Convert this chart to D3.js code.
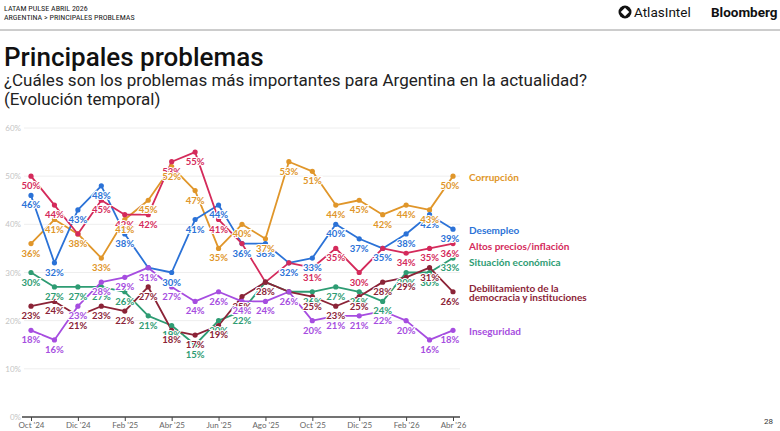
<!DOCTYPE html>
<html>
<head>
<meta charset="utf-8">
<script src="https://cdn.jsdelivr.net/npm/d3@7"></script>
<style>
  body { margin: 0; background: #fff; }
  svg { display: block; }
</style>
</head>
<body>
<svg id="chart" width="780" height="431"></svg>
<script>
// meses (Oct '24 - Abr '26)
var months = ["Oct '24", "Nov '24", "Dic '24", "Ene '25", "Feb '25", "Mar '25", "Abr '25", "May '25",
    "Jun '25", "Jul '25", "Ago '25", "Sep '25", "Oct '25", "Nov '25", "Dic '25", "Ene '26",
    "Feb '26", "Mar '26", "Abr '26"];
var yTicks = [0, 10, 20, 30, 40, 50, 60];

var corrupcion   = [36, 41, 38, 33, 41, 45, 52, 47, 35, 40, 37, 53, 51, 44, 45, 42, 44, 43, 50];
var desempleo    = [46, 32, 43, 48, 38, 31, 30, 41, 44, 36, 36, 32, 33, 40, 37, 35, 38, 42, 39];
var inflacion    = [50, 44, 38, 45, 42, 42, 53, 55, 41, 36, 28, 32, 31, 35, 30, 35, 34, 35, 36];
var situacion    = [30, 27, 27, 27, 26, 21, 19, 15, 20, 22, 28, 26, 26, 27, 26, 24, 30, 30, 33];
var democracia   = [23, 24, 21, 23, 22, 27, 18, 17, 19, 25, 28, 26, 25, 23, 25, 28, 29, 31, 26];
var inseguridad  = [18, 16, 23, 28, 29, 31, 27, 24, 26, 24, 24, 26, 20, 21, 21, 22, 20, 16, 18];

var series = [
    { name: ['Corrupción'], vals: corrupcion, color: '#E0962A' },
    { name: ['Desempleo'], vals: desempleo, color: '#2B72D7' },
    { name: ['Altos precios/inflación'], vals: inflacion, color: '#D42A5B' },
    { name: ['Situación económica'], vals: situacion, color: '#2E9C73' },
    { name: ['Debilitamiento de la', 'democracia y instituciones'], vals: democracia, color: '#8B2337' },
    { name: ['Inseguridad'], vals: inseguridad, color: '#A64DE0' }
];
// orden de dibujo de las etiquetas (la última queda encima)
var labelOrder = [2, 1, 3, 4, 5, 0];

var svg = d3.select('#chart');

// cabecera
var head = svg.append('g').attr('font-family', 'Roboto Condensed, Roboto, sans-serif');
head.append('text').attr('x', 4).attr('y', 11).attr('font-size', 8).attr('font-weight', 400)
    .attr('fill', '#222').text('LATAM PULSE ABRIL 2026');
head.append('text').attr('x', 4).attr('y', 20).attr('font-size', 8).attr('font-weight', 400)
    .attr('fill', '#222').text('ARGENTINA > PRINCIPALES PROBLEMAS');
svg.append('line').attr('x1', 0).attr('x2', 780).attr('y1', 30).attr('y2', 30)
    .attr('stroke', '#9a9a9a').attr('stroke-width', 1);

// logos
var logo = svg.append('g').attr('transform', 'translate(625,12)');
logo.append('circle').attr('r', 6.5).attr('fill', '#111');
logo.append('rect').attr('x', -3).attr('y', -3).attr('width', 6).attr('height', 6)
    .attr('fill', '#fff').attr('transform', 'rotate(45)');
svg.append('text').attr('x', 634).attr('y', 17).attr('font-family', 'Roboto, sans-serif')
    .attr('font-size', 13.5).attr('fill', '#111').text('AtlasIntel');
svg.append('text').attr('x', 711).attr('y', 17).attr('font-family', 'Roboto, sans-serif')
    .attr('font-size', 13.5).attr('font-weight', 700).attr('fill', '#111').text('Bloomberg');

// títulos
svg.append('text').attr('x', 4).attr('y', 66).attr('font-family', 'Roboto, sans-serif')
    .attr('font-size', 26).attr('font-weight', 500).attr('fill', '#111').text('Principales problemas');
svg.append('text').attr('x', 4).attr('y', 86).attr('font-family', 'Roboto, sans-serif')
    .attr('font-size', 17).attr('fill', '#222')
    .text('¿Cuáles son los problemas más importantes para Argentina en la actualidad?');
svg.append('text').attr('x', 4).attr('y', 105).attr('font-family', 'Roboto, sans-serif')
    .attr('font-size', 17).attr('fill', '#222').text('(Evolución temporal)');

svg.append('text').attr('x', 773).attr('y', 424).attr('text-anchor', 'end')
    .attr('font-family', 'Roboto, sans-serif').attr('font-size', 8).attr('fill', '#333').text('28');

// escalas
var x = d3.scalePoint().domain(months).range([31, 453]);
var y = d3.scaleLinear().domain([0, 60]).range([417, 128]);

// rejilla
svg.append('g').selectAll('line').data(yTicks.filter(d => d > 0)).enter().append('line')
    .attr('x1', 24).attr('x2', 460)
    .attr('y1', d => y(d)).attr('y2', d => y(d))
    .attr('stroke', '#eeeeee').attr('stroke-width', 1);

svg.append('g').selectAll('text').data(yTicks).enter().append('text')
    .attr('x', 21).attr('y', d => y(d) + 3)
    .attr('text-anchor', 'end')
    .attr('font-family', 'Lato, sans-serif').attr('font-size', 8)
    .attr('fill', '#c4c4c4')
    .text(d => d + '%');

// eje x
var xAxis = d3.axisBottom(x)
    .tickValues(months.filter((d, i) => i % 2 === 0))
    .tickSize(4).tickSizeOuter(0);
var gx = svg.append('g').attr('transform', 'translate(0,417)').call(xAxis);
gx.select('.domain').remove();
gx.append('line').attr('x1', 22).attr('x2', 460).attr('stroke', '#444').attr('stroke-width', 1.5);
gx.selectAll('.tick line').attr('stroke', '#444');
gx.selectAll('.tick text').attr('font-family', 'Lato, sans-serif').attr('font-size', 8)
    .attr('fill', '#666').attr('dy', '0.55em');

// líneas
var line = d3.line().x((d, i) => x(months[i])).y(d => y(d));

svg.append('g').selectAll('path').data(series).enter().append('path')
    .attr('d', d => line(d.vals))
    .attr('fill', 'none')
    .attr('stroke', d => d.color)
    .attr('stroke-width', 1.8)
    .attr('stroke-linejoin', 'round');

series.forEach(s => {
    svg.append('g').selectAll('circle').data(s.vals).enter().append('circle')
        .attr('cx', (d, i) => x(months[i]))
        .attr('cy', d => y(d))
        .attr('r', 2.6)
        .attr('fill', s.color);
});

// etiquetas de valores
labelOrder.map(k => series[k]).forEach(s => {
    svg.append('g').selectAll('text').data(s.vals).enter().append('text')
        .attr('x', (d, i) => x(months[i]) - (i === months.length - 1 ? 3 : 0))
        .attr('y', d => y(d) + 13)
        .attr('text-anchor', 'middle')
        .attr('font-family', 'Lato, sans-serif')
        .attr('font-size', 9.5).attr('font-weight', 700)
        .attr('fill', s.color)
        .attr('stroke', '#fff').attr('stroke-width', 2).attr('paint-order', 'stroke')
        .text(d => d + '%');
});

// leyenda al final de cada línea
var last = months[months.length - 1];
var leg = series.map(s => ({ s: s, y: y(s.vals[s.vals.length - 1]) + 1 }))
    .sort((a, b) => a.y - b.y);
for (var i = 1; i < leg.length; i++) {
    var gap = 6 + 5 * (leg[i - 1].s.name.length + leg[i].s.name.length);
    if (leg[i].y < leg[i - 1].y + gap) leg[i].y = leg[i - 1].y + gap;
}
leg.forEach(l => {
    var t = svg.append('text')
        .attr('x', x(last) + 16)
        .attr('y', l.y + 4 - (l.s.name.length - 1) * 4.5)
        .attr('font-family', 'Lato, sans-serif')
        .attr('font-size', 10).attr('font-weight', 700)
        .attr('fill', l.s.color);
    l.s.name.forEach((n, j) => {
        t.append('tspan').attr('x', x(last) + 16).attr('dy', j === 0 ? 0 : 9).text(n);
    });
});
</script>
</body>
</html>
